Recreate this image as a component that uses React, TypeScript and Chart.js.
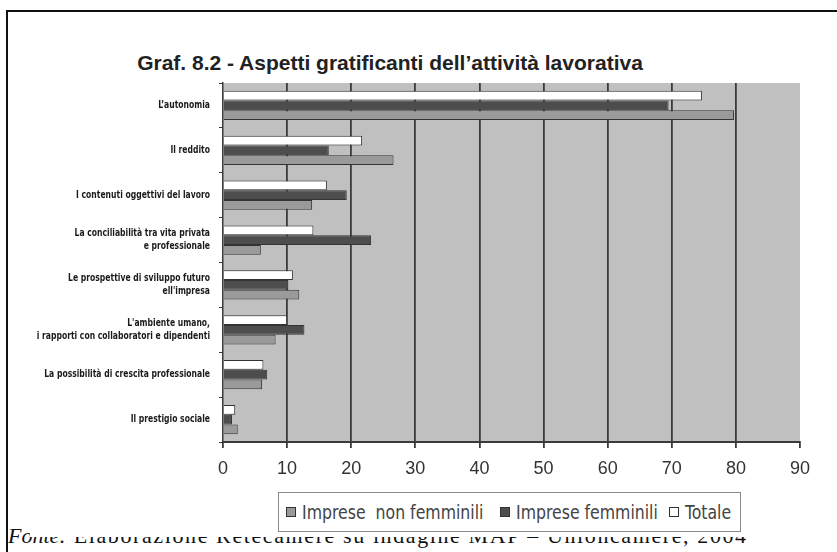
import React, { useEffect, useRef } from "react";
import { Chart, registerables } from "chart.js";

Chart.register(...registerables);

const categories: (string | string[])[] = [
  "L’autonomia",
  "Il reddito",
  "I contenuti oggettivi del lavoro",
  ["La conciliabilità tra vita privata", "e professionale"],
  ["Le prospettive di sviluppo futuro", "ell'impresa"],
  ["L'ambiente umano,", "i rapporti con collaboratori e dipendenti"],
  "La possibilità di crescita professionale",
  "Il prestigio sociale",
];

const totale = [74.7, 21.7, 16.2, 14.1, 10.9, 10.0, 6.3, 1.9];
const impreseFemminili = [69.5, 16.5, 19.3, 23.1, 10.2, 12.7, 6.9, 1.4];
const impreseNonFemminili = [79.7, 26.6, 13.9, 5.9, 11.9, 8.2, 6.1, 2.3];

const xMin = 0;
const xMax = 90;
const xStep = 10;

const titleText = "Graf. 8.2 - Aspetti gratificanti dell’attività lavorativa";
const sourceLead = "Fonte:";
const sourceRest = " Elaborazione Retecamere su indagine MAP – Unioncamere, 2004";

const legendItems = [
  { label: "Imprese  non femminili", color: "#9a9a9a", x: 286 },
  { label: "Imprese femminili", color: "#4d4d4d", x: 500 },
  { label: "Totale", color: "#ffffff", x: 669 },
];

const COND = "'DejaVu Sans Condensed', 'DejaVu Sans', sans-serif";
const SANS = "'Liberation Sans', Arial, sans-serif";
const LABEL_SQUEEZE = 0.85;

const bgPlugin = {
  id: "plotBg",
  beforeDraw(chart: any) {
    const { ctx, chartArea } = chart;
    ctx.save();
    ctx.fillStyle = "#c0c0c0";
    ctx.fillRect(chartArea.left, chartArea.top, chartArea.right - chartArea.left, chartArea.bottom - chartArea.top);
    ctx.restore();
    const ys = chart.scales.y;
    if (ys && !ys.__squeezed) {
      ys.__squeezed = true;
      const orig = ys.drawLabels.bind(ys);
      ys.drawLabels = (area: any) => {
        const c = ys.ctx;
        const ax = ys.right - 13;
        c.save();
        c.translate(ax, 0);
        c.scale(LABEL_SQUEEZE, 1);
        c.translate(-ax, 0);
        orig(area);
        c.restore();
      };
    }
  },
};

export default function App() {
  const ref = useRef<HTMLCanvasElement | null>(null);

  useEffect(() => {
    if (!ref.current) return;
    const chart = new Chart(ref.current, {
      type: "bar",
      data: {
        labels: categories,
        datasets: [
          { label: "Totale", data: totale, backgroundColor: "#ffffff", borderColor: "#333333", borderWidth: 1 },
          { label: "Imprese femminili", data: impreseFemminili, backgroundColor: "#4d4d4d", borderColor: "#333333", borderWidth: 1 },
          { label: "Imprese  non femminili", data: impreseNonFemminili, backgroundColor: "#9a9a9a", borderColor: "#333333", borderWidth: 1 },
        ],
      },
      options: {
        indexAxis: "y",
        responsive: false,
        animation: false,
        devicePixelRatio: 1,
        layout: { padding: { left: 0, top: 83, right: 37, bottom: 66 } },
        datasets: { bar: { categoryPercentage: 0.65, barPercentage: 1.0 } },
        plugins: {
          legend: { display: false },
          title: { display: false },
          tooltip: { enabled: false },
        },
        scales: {
          x: {
            min: xMin,
            max: xMax,
            ticks: { stepSize: xStep, font: { family: SANS, size: 18 }, color: "#333", padding: 10 },
            grid: {
              color: (c: any) => (c.tick && (c.tick.value === xMin || c.tick.value === xMax) ? "rgba(0,0,0,0)" : "#3a3a3a"),
              tickColor: "#3a3a3a",
              lineWidth: 1.8,
              tickLength: 6,
            },
            border: { color: "#3a3a3a", width: 2 },
            afterFit: (s: any) => { s.height = 44; },
          },
          y: {
            ticks: { font: { family: COND, size: 10, weight: "bold", lineHeight: 1.35 }, color: "#1a1a1a", padding: 9, autoSkip: false },
            grid: { drawOnChartArea: false, tickLength: 4, color: "#3a3a3a", offset: true },
            border: { color: "#3a3a3a", width: 1.5 },
            afterFit: (s: any) => { s.width = 223; },
          },
        },
      },
      plugins: [bgPlugin],
    } as any);
    return () => chart.destroy();
  }, []);

  return (
    <div style={{ position: "fixed", left: 0, top: 0, width: 837, height: 552, background: "#fff", overflow: "hidden" }}>
      <div style={{ position: "absolute", left: 6, top: 10, width: 900, height: 600, borderLeft: "2px solid #111", borderTop: "2px solid #111" }} />
      <div style={{ position: "absolute", left: 8, top: 523, whiteSpace: "pre", fontFamily: "'Liberation Serif', 'Times New Roman', serif", fontSize: 22, lineHeight: "26px", color: "#111", zIndex: 1 }}>
        <span style={{ fontStyle: "italic" }}>{sourceLead}</span>
        <span style={{ letterSpacing: "1.6px" }}>{sourceRest}</span>
      </div>
      <div style={{ position: "absolute", left: 30, top: 420, width: 807, height: 117, background: "#fff", zIndex: 2 }} />
      <div style={{ position: "absolute", left: 0, top: 51, width: 780, textAlign: "center", fontFamily: SANS, fontWeight: "bold", fontSize: 21, lineHeight: "24px", color: "#222", zIndex: 3 }}>
        {titleText}
      </div>
      <canvas ref={ref} width={837} height={552} style={{ position: "absolute", left: 0, top: 0, width: 837, height: 552, zIndex: 3 }} />
      <div style={{ position: "absolute", left: 278, top: 492, width: 463, height: 40, boxSizing: "border-box", border: "1.5px solid #8a8a8a", background: "#fff", zIndex: 4 }}>
        {legendItems.map((it) => (
          <div key={it.label} style={{ position: "absolute", left: it.x - 278 - 1.5, top: 0, height: 37, display: "flex", alignItems: "center", whiteSpace: "pre" }}>
            <span style={{ display: "inline-block", width: 8, height: 8, background: it.color, border: "1px solid #333", marginRight: 6 }} />
            <span style={{ display: "inline-block", fontFamily: COND, fontSize: 19, color: "#444", transform: "scaleX(0.92)", transformOrigin: "left center" }}>{it.label}</span>
          </div>
        ))}
      </div>
    </div>
  );
}
